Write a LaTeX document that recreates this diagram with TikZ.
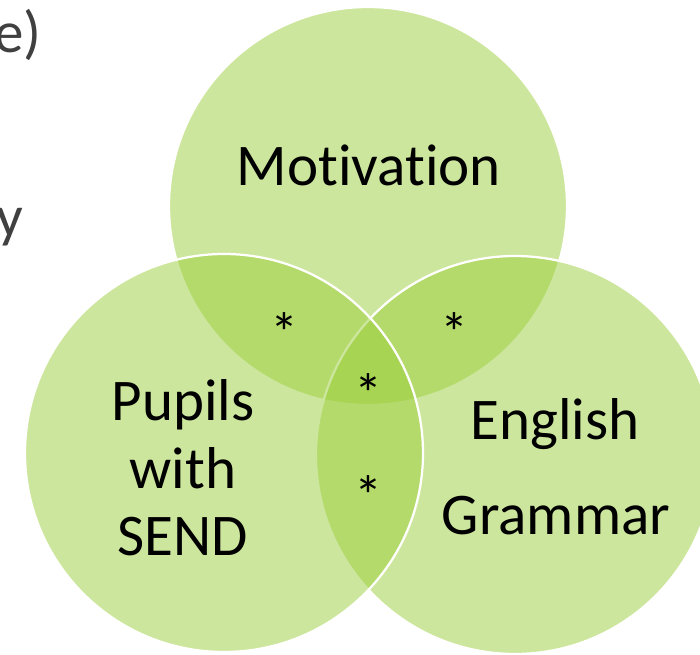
\documentclass[tikz,border=0pt]{standalone}
\usepackage{fontspec}
\setmainfont{Carlito}[Ligatures=NoCommon]
\definecolor{venngreen}{RGB}{156,206,60}
\definecolor{sidegray}{RGB}{64,64,64}

\begin{document}
\begin{tikzpicture}[x=0.025cm,y=-0.025cm,font=\fontsize{42}{48}\selectfont]
\tikzset{
  venn/.style={white, line width=1.6pt, fill=venngreen, fill opacity=0.5},
  star/.style={font=\fontsize{40}{42}\selectfont, anchor=base, inner sep=0pt}
}
\useasboundingbox (0,0) rectangle (700,655);
\clip (0,0) rectangle (700,655);

\begin{scope}
\pgfmathsetmacro{\vr}{199};

\coordinate (top) at (368,206);
\coordinate (right) at (515,455);
\coordinate (left) at (224,453);

\draw[venn] (top) circle (\vr);
\draw[venn] (right) circle (\vr);
\draw[venn] (left) circle (\vr);

\node[anchor=base] (mot) at (369,186) {Motivation};
\node[align=center] (send) at (183,468) {Pupils\\with\\SEND};
\node[anchor=base] (eng) at (555,440) {English};
\node[anchor=base] (gram) at (556,535) {Grammar};

\node[star] (tl) at (285,353) {*};
\node[star] (tr) at (455,353) {*};
\node[star] (mid) at (369,414) {*};
\node[star] (lr) at (369,516) {*};

\node[anchor=base east, inner sep=0pt, text=sidegray] (cute) at (42,53) {e)};
\node[anchor=base east, inner sep=0pt, text=sidegray] (cuty) at (24,237) {y};
\end{scope}

\end{tikzpicture}
\end{document}
